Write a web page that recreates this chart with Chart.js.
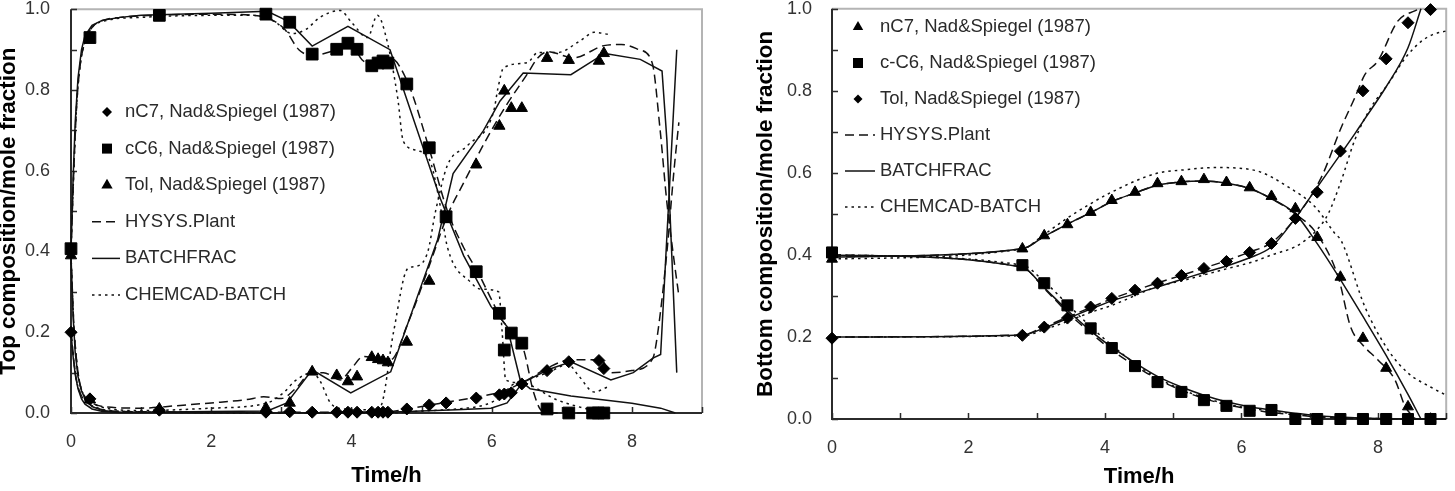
<!DOCTYPE html>
<html>
<head>
<meta charset="utf-8">
<script src="https://cdn.jsdelivr.net/npm/chart.js@4/dist/chart.umd.min.js"></script>
<style>
  body { margin: 0; background: #fff; }
  #wrap { position: relative; width: 1455px; height: 491px; overflow: hidden; }
  canvas { position: absolute; top: 0; }
</style>
</head>
<body>
<div id="wrap">
  <canvas id="topChart" width="730" height="491" style="left:0"></canvas>
  <canvas id="botChart" width="725" height="491" style="left:730px"></canvas>
</div>
<script>
// ---------- Top composition (left panel) ----------
// experimental points, Nad & Spiegel (1987)
const topC7ExpT = [0, 0.27, 1.26, 2.78, 3.12, 3.44, 3.79, 3.95, 4.08, 4.29, 4.38, 4.45, 4.52, 4.79, 5.11, 5.35, 5.78, 6.11, 6.18, 6.28, 6.43, 6.79, 7.1, 7.53, 7.6];
const topC7Exp = [0.2, 0.035, 0.007, 0.002, 0.003, 0.002, 0.002, 0.002, 0.002, 0.002, 0.002, 0.002, 0.002, 0.01, 0.02, 0.025, 0.037, 0.045, 0.047, 0.05, 0.072, 0.105, 0.127, 0.13, 0.11];
const topC6ExpT = [0, 0.27, 1.26, 2.78, 3.12, 3.44, 3.79, 3.95, 4.08, 4.29, 4.38, 4.45, 4.52, 4.79, 5.11, 5.35, 5.78, 6.11, 6.18, 6.28, 6.43, 6.79, 7.1, 7.44, 7.52, 7.6];
const topC6Exp = [0.407, 0.93, 0.985, 0.988, 0.968, 0.889, 0.901, 0.916, 0.901, 0.86, 0.867, 0.872, 0.867, 0.815, 0.657, 0.486, 0.35, 0.247, 0.156, 0.198, 0.173, 0.01, 0, 0, 0, 0];
const topTolExpT = [0, 0.27, 1.26, 2.78, 3.12, 3.44, 3.79, 3.95, 4.08, 4.29, 4.38, 4.45, 4.52, 4.79, 5.11, 5.35, 5.78, 6.11, 6.18, 6.28, 6.43, 6.79, 7.1, 7.53, 7.6];
const topTolExp = [0.39, 0.033, 0.01, 0.012, 0.025, 0.102, 0.093, 0.078, 0.09, 0.138, 0.133, 0.13, 0.125, 0.176, 0.327, 0.48, 0.615, 0.711, 0.798, 0.755, 0.755, 0.879, 0.874, 0.872, 0.891];

// HYSYS.Plant
const hyTopC6T = [0, 0.04, 0.08, 0.13, 0.2, 0.3, 0.45, 0.7, 1.2, 2.0, 2.6, 2.85, 3.05, 3.25, 3.44, 3.6, 3.8, 4.0, 4.15, 4.3, 4.45, 4.55, 4.8, 5.1, 5.37, 5.6, 5.8, 6.0, 6.15, 6.3, 6.45, 6.6, 6.72, 7.0, 7.6];
const hyTopC6 = [0.4, 0.6, 0.76, 0.86, 0.92, 0.955, 0.972, 0.98, 0.985, 0.988, 0.985, 0.975, 0.95, 0.9, 0.885, 0.89, 0.9, 0.91, 0.875, 0.862, 0.868, 0.88, 0.82, 0.66, 0.5, 0.41, 0.35, 0.28, 0.23, 0.2, 0.16, 0.05, 0.005, 0, 0];
const hyTopTolT = [0, 0.04, 0.08, 0.13, 0.2, 0.3, 0.5, 1.0, 1.5, 2.0, 2.5, 2.75, 3.0, 3.2, 3.44, 3.6, 3.84, 4.0, 4.17, 4.35, 4.56, 4.8, 5.1, 5.37, 5.6, 5.9, 6.2, 6.51, 6.66, 6.8, 7.17, 7.6, 7.85, 8.1, 8.29, 8.4, 8.5, 8.6, 8.67];
const hyTopTol = [0.39, 0.22, 0.13, 0.07, 0.04, 0.025, 0.015, 0.012, 0.018, 0.025, 0.033, 0.04, 0.036, 0.06, 0.1, 0.1, 0.082, 0.11, 0.14, 0.135, 0.132, 0.22, 0.36, 0.49, 0.57, 0.67, 0.76, 0.84, 0.88, 0.895, 0.88, 0.91, 0.913, 0.9, 0.867, 0.706, 0.52, 0.38, 0.29];
const hyTopC7T = [0, 0.04, 0.08, 0.13, 0.2, 0.3, 0.5, 1.0, 3.0, 4.5, 4.8, 5.13, 5.37, 5.8, 6.13, 6.51, 6.8, 7.13, 7.56, 7.7, 8.0, 8.3, 8.37, 8.5, 8.6, 8.67];
const hyTopC7 = [0.2, 0.13, 0.08, 0.05, 0.03, 0.018, 0.007, 0.003, 0.002, 0.003, 0.01, 0.02, 0.027, 0.04, 0.052, 0.082, 0.112, 0.132, 0.132, 0.1, 0.105, 0.136, 0.2, 0.4, 0.6, 0.72];

// BATCHFRAC
const bfTopC6T = [0, 0.03, 0.06, 0.1, 0.15, 0.2, 0.3, 0.45, 0.7, 1.0, 2.0, 2.8, 3.1, 3.44, 3.95, 4.55, 5.27, 5.6, 5.99, 6.22, 6.41, 6.55, 7.13, 8.0, 8.41, 8.62];
const bfTopC6 = [0.4, 0.58, 0.72, 0.83, 0.9, 0.935, 0.96, 0.973, 0.98, 0.985, 0.99, 0.995, 0.97, 0.909, 0.958, 0.9, 0.53, 0.39, 0.264, 0.214, 0.08, 0.06, 0.042, 0.024, 0.012, 0];
const bfTopTolT = [0, 0.03, 0.06, 0.1, 0.15, 0.2, 0.3, 0.45, 0.7, 1.0, 2.0, 2.8, 3.08, 3.44, 3.99, 4.56, 5.23, 5.45, 5.88, 6.12, 6.45, 7.13, 7.56, 7.66, 8.12, 8.43, 8.5, 8.64];
const bfTopTol = [0.39, 0.24, 0.15, 0.09, 0.055, 0.035, 0.016, 0.006, 0.002, 0.002, 0.004, 0.005, 0.025, 0.107, 0.05, 0.102, 0.43, 0.593, 0.699, 0.773, 0.842, 0.838, 0.885, 0.889, 0.876, 0.847, 0.674, 0.1];
const bfTopC7T = [0, 0.03, 0.06, 0.1, 0.15, 0.2, 0.3, 0.45, 0.7, 1.0, 3.0, 4.5, 5.0, 5.5, 5.99, 6.22, 6.44, 6.8, 7.13, 7.7, 8.02, 8.3, 8.41, 8.64];
const bfTopC7 = [0.2, 0.14, 0.095, 0.06, 0.035, 0.022, 0.01, 0.004, 0.001, 0.001, 0.0, 0.002, 0.005, 0.008, 0.012, 0.025, 0.075, 0.107, 0.127, 0.082, 0.1, 0.136, 0.145, 0.9];

// CHEMCAD-BATCH
const ccTopC6T = [0, 0.04, 0.08, 0.13, 0.2, 0.3, 0.5, 1.0, 2.0, 2.6, 2.9, 3.15, 3.35, 3.55, 3.84, 4.0, 4.23, 4.37, 4.51, 4.66, 4.74, 4.94, 5.13, 5.27, 5.37, 5.7, 5.84, 6.1, 6.15, 6.2, 6.41, 6.94, 7.41, 7.66];
const ccTopC6 = [0.4, 0.6, 0.76, 0.86, 0.92, 0.955, 0.972, 0.98, 0.985, 0.985, 0.97, 0.94, 0.95, 0.98, 0.997, 0.968, 0.93, 0.985, 0.92, 0.78, 0.673, 0.65, 0.62, 0.51, 0.41, 0.324, 0.307, 0.3, 0.2, 0.082, 0.075, 0.032, 0.008, 0.0];
const ccTopTolT = [0, 0.04, 0.08, 0.13, 0.2, 0.3, 0.5, 1.0, 2.0, 2.8, 3.03, 3.2, 3.44, 3.55, 3.7, 3.9, 4.23, 4.41, 4.6, 4.8, 4.94, 5.09, 5.2, 5.37, 5.66, 6.03, 6.09, 6.17, 6.51, 6.66, 6.94, 7.27, 7.46, 7.66];
const ccTopTol = [0.39, 0.22, 0.13, 0.07, 0.04, 0.025, 0.012, 0.006, 0.012, 0.025, 0.05, 0.08, 0.1, 0.08, 0.025, 0.01, 0.008, 0.015, 0.2, 0.357, 0.364, 0.4, 0.5, 0.614, 0.663, 0.748, 0.805, 0.855, 0.868, 0.893, 0.893, 0.923, 0.943, 0.938];
const ccTopC7T = [0, 0.04, 0.08, 0.13, 0.2, 0.3, 0.5, 1.0, 3.0, 4.5, 5.0, 5.5, 5.9, 6.13, 6.3, 6.51, 6.8, 7.09, 7.25, 7.46, 7.66];
const ccTopC7 = [0.2, 0.13, 0.08, 0.05, 0.03, 0.018, 0.007, 0.003, 0.0, 0.0, 0.005, 0.01, 0.02, 0.04, 0.07, 0.082, 0.1, 0.12, 0.09, 0.052, 0.065];

// ---------- Bottom composition (right panel) ----------
const botExpT = [0, 2.79, 3.11, 3.45, 3.79, 4.1, 4.44, 4.77, 5.12, 5.45, 5.78, 6.12, 6.44, 6.79, 7.11, 7.45, 7.78, 8.12, 8.44, 8.77];
const botC7Exp = [0.39, 0.415, 0.447, 0.474, 0.504, 0.533, 0.553, 0.574, 0.579, 0.584, 0.577, 0.564, 0.543, 0.513, 0.443, 0.346, 0.197, 0.124, 0.03, 0];
const botC6Exp = [0.406, 0.375, 0.331, 0.277, 0.221, 0.173, 0.129, 0.09, 0.066, 0.046, 0.032, 0.02, 0.022, 0, 0, 0, 0, 0, 0, 0];
const botTolExp = [0.197, 0.204, 0.224, 0.246, 0.273, 0.294, 0.314, 0.331, 0.35, 0.367, 0.384, 0.406, 0.428, 0.489, 0.553, 0.653, 0.8, 0.878, 0.966, 0.998];

const botC6T = [0, 2.79, 3.11, 3.45, 3.79, 4.1, 4.44, 4.77, 5.12, 5.45, 5.78, 6.12, 6.44, 6.79, 7.11, 7.5, 8.0, 8.5, 9.0];

const bfBotC7T = [0, 2.79, 3.11, 3.45, 3.79, 4.1, 4.44, 4.77, 5.12, 5.45, 5.78, 6.12, 6.44, 6.79, 7.1, 7.45, 7.78, 8.12, 8.44, 8.63];
const bfBotC7 = [0.395, 0.415, 0.445, 0.475, 0.503, 0.53, 0.551, 0.57, 0.578, 0.58, 0.575, 0.562, 0.537, 0.5, 0.43, 0.34, 0.25, 0.155, 0.06, 0];
const bfBotC6 = [0.4, 0.37, 0.32, 0.265, 0.215, 0.175, 0.137, 0.104, 0.078, 0.058, 0.042, 0.03, 0.022, 0.014, 0.008, 0.004, 0.001, 0, 0];
const bfBotTolT = [0, 2.79, 3.11, 3.45, 3.79, 4.1, 4.44, 4.77, 5.12, 5.45, 5.78, 6.12, 6.44, 6.79, 7.11, 7.45, 7.66, 7.78, 8.12, 8.44, 8.63];
const bfBotTol = [0.2, 0.205, 0.222, 0.245, 0.268, 0.288, 0.305, 0.322, 0.34, 0.357, 0.373, 0.393, 0.42, 0.49, 0.565, 0.645, 0.695, 0.725, 0.81, 0.905, 1.0];

const hyBotC7T = [0, 2.79, 3.11, 3.45, 3.79, 4.1, 4.44, 4.77, 5.12, 5.45, 5.78, 6.12, 6.44, 6.79, 7.11, 7.42, 7.6, 7.78, 8.0, 8.25, 8.4, 8.55];
const hyBotC7 = [0.395, 0.415, 0.445, 0.475, 0.503, 0.53, 0.551, 0.57, 0.578, 0.58, 0.575, 0.562, 0.537, 0.5, 0.45, 0.345, 0.224, 0.18, 0.144, 0.095, 0.03, 0];
const hyBotC6 = [0.4, 0.37, 0.318, 0.26, 0.21, 0.168, 0.13, 0.097, 0.07, 0.05, 0.035, 0.024, 0.016, 0.01, 0.005, 0.002, 0, 0, 0];
const hyBotTolT = [0, 2.79, 3.11, 3.45, 3.79, 4.1, 4.44, 4.77, 5.12, 5.45, 5.78, 6.12, 6.44, 6.79, 7.17, 7.46, 7.66, 7.81, 8.0, 8.29, 8.54, 8.62];
const hyBotTol = [0.2, 0.205, 0.225, 0.248, 0.272, 0.293, 0.313, 0.332, 0.35, 0.368, 0.386, 0.407, 0.43, 0.49, 0.589, 0.71, 0.783, 0.84, 0.873, 0.97, 0.995, 1.0];

const ccBotC7T = [0, 2.79, 3.11, 3.45, 3.79, 4.06, 4.74, 5.2, 5.62, 6.2, 6.69, 7.08, 7.37, 7.46, 7.81, 8.15, 8.44, 8.77, 9.0];
const ccBotC7 = [0.39, 0.415, 0.45, 0.49, 0.525, 0.55, 0.598, 0.608, 0.613, 0.606, 0.565, 0.517, 0.452, 0.435, 0.273, 0.168, 0.112, 0.078, 0.058];
const ccBotC6 = [0.4, 0.375, 0.335, 0.28, 0.225, 0.18, 0.135, 0.1, 0.072, 0.052, 0.037, 0.026, 0.02, 0.012, 0.007, 0.003, 0.001, 0, 0];
const ccBotTolT = [0, 2.79, 3.11, 3.45, 3.79, 4.1, 4.74, 5.2, 5.71, 6.2, 6.44, 6.79, 6.93, 7.1, 7.27, 7.46, 7.66, 7.9, 8.15, 8.4, 8.63, 8.8, 9.0];
const ccBotTol = [0.2, 0.203, 0.218, 0.238, 0.26, 0.277, 0.321, 0.34, 0.363, 0.385, 0.4, 0.42, 0.435, 0.46, 0.5, 0.58, 0.68, 0.76, 0.817, 0.88, 0.92, 0.937, 0.946];

const FONT = '"Liberation Sans", Arial, Helvetica, sans-serif';
const DASH = [9, 5];
const DOT = [2.5, 4];

function pts(t, v) {
  return t.map((x, i) => ({ x: x, y: v[i] }));
}

function expSet(label, t, v, style, r) {
  return {
    label: label, data: pts(t, v), showLine: false, clip: false,
    pointStyle: style, pointRadius: r, pointBackgroundColor: '#000',
    pointBorderColor: '#000', pointBorderWidth: 1
  };
}

// straight = piecewise linear (BATCHFRAC top), otherwise smooth monotone
function lineSet(label, t, v, dash, straight) {
  const ds = {
    label: label, data: pts(t, v), showLine: true, clip: false,
    borderColor: '#111', borderWidth: 1.5, borderDash: dash, pointRadius: 0
  };
  if (!straight) ds.cubicInterpolationMode = 'monotone';
  return ds;
}

// draw little black markers for the legend
function marker(ctx, style, x, y, r) {
  ctx.beginPath();
  if (style === 'rect') {
    ctx.rect(x - r, y - r, 2 * r, 2 * r);
  } else if (style === 'triangle') {
    ctx.moveTo(x, y - r);
    ctx.lineTo(x + r * 0.87, y + r * 0.5);
    ctx.lineTo(x - r * 0.87, y + r * 0.5);
    ctx.closePath();
  } else {
    ctx.moveTo(x - r, y); ctx.lineTo(x, y - r); ctx.lineTo(x + r, y); ctx.lineTo(x, y + r);
    ctx.closePath();
  }
  ctx.fill();
}

const framePlugin = {
  id: 'frame',
  beforeDatasetsDraw(chart) {
    const { ctx, chartArea: a, scales } = chart;
    ctx.save();
    ctx.lineWidth = 2;
    ctx.strokeStyle = '#b4b4b4';
    ctx.beginPath();
    ctx.moveTo(a.left, a.top); ctx.lineTo(a.right, a.top); ctx.lineTo(a.right, a.bottom);
    ctx.stroke();
    ctx.strokeStyle = '#2b2b2b';
    ctx.beginPath();
    ctx.moveTo(a.left, a.top); ctx.lineTo(a.left, a.bottom); ctx.lineTo(a.right, a.bottom);
    ctx.stroke();
    ctx.lineWidth = 1.5;
    ctx.beginPath();
    scales.x.ticks.forEach(t => {
      const px = Math.round(scales.x.getPixelForValue(t.value)) + 0.5;
      ctx.moveTo(px, a.bottom); ctx.lineTo(px, a.bottom - 6);
    });
    scales.y.ticks.forEach(t => {
      const py = Math.round(scales.y.getPixelForValue(t.value)) + 0.5;
      ctx.moveTo(a.left, py); ctx.lineTo(a.left + 6, py);
    });
    ctx.stroke();
    ctx.restore();
  }
};

const legendPlugin = {
  id: 'boxLegend',
  afterDatasetsDraw(chart, args, o) {
    const ctx = chart.ctx;
    ctx.save();
    ctx.font = '18.5px ' + FONT;
    ctx.textBaseline = 'middle';
    o.items.forEach((it, i) => {
      const y = o.top + i * o.gap;
      ctx.fillStyle = '#000';
      if (it.marker) {
        marker(ctx, it.marker, o.markerX, y, it.r);
      } else {
        ctx.strokeStyle = '#111';
        ctx.lineWidth = 1.5;
        ctx.setLineDash(it.dash);
        ctx.beginPath();
        ctx.moveTo(o.lineX0, y); ctx.lineTo(o.lineX1, y);
        ctx.stroke();
        ctx.setLineDash([]);
      }
      ctx.fillStyle = '#2a2a2a';
      ctx.fillText(it.text, o.textX, y);
    });
    ctx.restore();
  }
};

function makeOptions(c) {
  return {
    responsive: false,
    animation: false,
    events: [],
    layout: { padding: { left: 0, right: c.padRight, top: c.padTop, bottom: 0 } },
    plugins: { legend: { display: false }, tooltip: { enabled: false }, boxLegend: c.legend },
    scales: {
      x: {
        type: 'linear', min: 0, max: 9,
        afterFit: s => { s.height = c.xHeight; s.paddingLeft = 0; s.paddingRight = 0; },
        grid: { display: false, drawTicks: false },
        border: { display: false },
        ticks: {
          stepSize: 1, autoSkip: false, maxRotation: 0, includeBounds: false,
          padding: 18, color: '#333', font: { family: FONT, size: 18 },
          callback: v => (Math.round(v) % 2 === 0 ? String(Math.round(v)) : '')
        },
        title: {
          display: true, text: 'Time/h', color: '#000',
          font: { family: FONT, size: 22, weight: 'bold' },
          padding: { top: 0, bottom: c.xTitlePad }
        }
      },
      y: {
        type: 'linear', min: 0, max: 1,
        afterFit: s => { s.width = c.yWidth; s.paddingTop = 0; s.paddingBottom = 0; },
        grid: { display: false, drawTicks: false },
        border: { display: false },
        ticks: {
          stepSize: 0.1, autoSkip: false, padding: c.yTickPad,
          color: '#333', font: { family: FONT, size: 18 },
          callback: v => (Math.round(v * 10) % 2 === 0 ? v.toFixed(1) : '')
        },
        title: {
          display: true, text: c.yTitle, color: '#000',
          font: { family: FONT, size: 22.5, weight: 'bold' },
          padding: { top: c.yTitlePad, bottom: 0 }
        }
      }
    }
  };
}

new Chart(document.getElementById('topChart'), {
  type: 'scatter',
  data: {
    datasets: [
      expSet('nC7, Nad&Spiegel (1987)', topC7ExpT, topC7Exp, 'rectRot', 6),
      expSet('cC6, Nad&Spiegel (1987)', topC6ExpT, topC6Exp, 'rect', 8.3),
      expSet('Tol, Nad&Spiegel (1987)', topTolExpT, topTolExp, 'triangle', 6.5),
      lineSet('HYSYS.Plant', hyTopC6T, hyTopC6, DASH),
      lineSet('HYSYS.Plant', hyTopTolT, hyTopTol, DASH),
      lineSet('HYSYS.Plant', hyTopC7T, hyTopC7, DASH),
      lineSet('BATCHFRAC', bfTopC6T, bfTopC6, [], true),
      lineSet('BATCHFRAC', bfTopTolT, bfTopTol, [], true),
      lineSet('BATCHFRAC', bfTopC7T, bfTopC7, [], true),
      lineSet('CHEMCAD-BATCH', ccTopC6T, ccTopC6, DOT),
      lineSet('CHEMCAD-BATCH', ccTopTolT, ccTopTol, DOT),
      lineSet('CHEMCAD-BATCH', ccTopC7T, ccTopC7, DOT)
    ]
  },
  options: makeOptions({
    padRight: 28, padTop: 9, xHeight: 78, yWidth: 71, yTickPad: 21, yTitlePad: -5, xTitlePad: 2,
    yTitle: 'Top composition/mole fraction',
    legend: {
      top: 112, gap: 36.6, markerX: 107, lineX0: 92, lineX1: 120, textX: 125,
      items: [
        { text: 'nC7, Nad&Spiegel (1987)', marker: 'diamond', r: 5 },
        { text: 'cC6, Nad&Spiegel (1987)', marker: 'rect', r: 5 },
        { text: 'Tol, Nad&Spiegel (1987)', marker: 'triangle', r: 6.5 },
        { text: 'HYSYS.Plant', dash: DASH },
        { text: 'BATCHFRAC', dash: [] },
        { text: 'CHEMCAD-BATCH', dash: DOT }
      ]
    }
  }),
  plugins: [framePlugin, legendPlugin]
});

new Chart(document.getElementById('botChart'), {
  type: 'scatter',
  data: {
    datasets: [
      expSet('nC7, Nad&Spiegel (1987)', botExpT, botC7Exp, 'triangle', 6.3),
      expSet('c-C6, Nad&Spiegel (1987)', botExpT, botC6Exp, 'rect', 7.8),
      expSet('Tol, Nad&Spiegel (1987)', botExpT, botTolExp, 'rectRot', 6),
      lineSet('HYSYS.Plant', hyBotC7T, hyBotC7, DASH),
      lineSet('HYSYS.Plant', botC6T, hyBotC6, DASH),
      lineSet('HYSYS.Plant', hyBotTolT, hyBotTol, DASH),
      lineSet('BATCHFRAC', bfBotC7T, bfBotC7, []),
      lineSet('BATCHFRAC', botC6T, bfBotC6, []),
      lineSet('BATCHFRAC', bfBotTolT, bfBotTol, []),
      lineSet('CHEMCAD-BATCH', ccBotC7T, ccBotC7, DOT),
      lineSet('CHEMCAD-BATCH', botC6T, ccBotC6, DOT),
      lineSet('CHEMCAD-BATCH', ccBotTolT, ccBotTol, DOT)
    ]
  },
  options: makeOptions({
    padRight: 6, padTop: 8, xHeight: 72, yWidth: 102, yTickPad: 20, yTitlePad: 22, xTitlePad: 1,
    yTitle: 'Bottom composition/mole fraction',
    legend: {
      top: 27, gap: 36, markerX: 128, lineX0: 115, lineX1: 145, textX: 150,
      items: [
        { text: 'nC7, Nad&Spiegel (1987)', marker: 'triangle', r: 6 },
        { text: 'c-C6, Nad&Spiegel (1987)', marker: 'rect', r: 5 },
        { text: 'Tol, Nad&Spiegel (1987)', marker: 'diamond', r: 4.5 },
        { text: 'HYSYS.Plant', dash: DASH },
        { text: 'BATCHFRAC', dash: [] },
        { text: 'CHEMCAD-BATCH', dash: DOT }
      ]
    }
  }),
  plugins: [framePlugin, legendPlugin]
});
</script>
</body>
</html>
